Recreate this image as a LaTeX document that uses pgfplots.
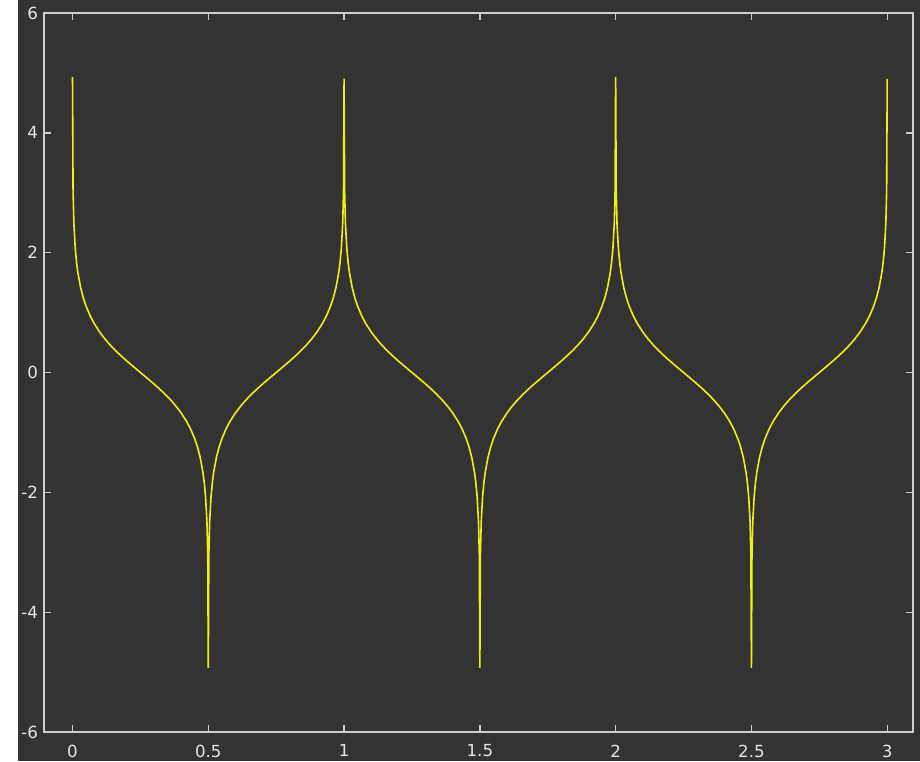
\documentclass[border=0pt]{standalone}
\usepackage{pgfplots}
\pgfplotsset{compat=1.18}
\usepackage{pgfplotstable}
\usepackage{fontspec}
\setmainfont{DejaVu Sans}
\definecolor{bg}{RGB}{51,51,51}
\definecolor{fr}{RGB}{205,205,205}
\definecolor{yl}{RGB}{240,240,20}
\definecolor{lbl}{RGB}{230,230,230}
\pgfplotstableread{
x y
0 4.93
0.002 3.04
0.005 2.492
0.01 2.076
0.015 1.833
0.02 1.66
0.03 1.415
0.04 1.241
0.05 1.106
0.065 0.945
0.08 0.816
0.1 0.675
0.12 0.556
0.14 0.452
0.16 0.359
0.18 0.273
0.2 0.192
0.225 0.095
0.25 0
0.275 -0.095
0.3 -0.192
0.32 -0.273
0.34 -0.359
0.36 -0.452
0.38 -0.556
0.4 -0.675
0.42 -0.816
0.435 -0.945
0.45 -1.106
0.46 -1.241
0.47 -1.415
0.48 -1.66
0.485 -1.833
0.49 -2.076
0.495 -2.492
0.498 -3.04
0.5 -4.93
0.502 -3.04
0.505 -2.492
0.51 -2.076
0.515 -1.833
0.52 -1.66
0.53 -1.415
0.54 -1.241
0.55 -1.106
0.565 -0.945
0.58 -0.816
0.6 -0.675
0.62 -0.556
0.64 -0.452
0.66 -0.359
0.68 -0.273
0.7 -0.192
0.725 -0.095
0.75 0
0.775 0.095
0.8 0.192
0.82 0.273
0.84 0.359
0.86 0.452
0.88 0.556
0.9 0.675
0.92 0.816
0.935 0.945
0.95 1.106
0.96 1.241
0.97 1.415
0.98 1.66
0.985 1.833
0.99 2.076
0.995 2.492
0.998 3.04
1 4.9
1.002 3.04
1.005 2.492
1.01 2.076
1.015 1.833
1.02 1.66
1.03 1.415
1.04 1.241
1.05 1.106
1.065 0.945
1.08 0.816
1.1 0.675
1.12 0.556
1.14 0.452
1.16 0.359
1.18 0.273
1.2 0.192
1.225 0.095
1.25 0
1.275 -0.095
1.3 -0.192
1.32 -0.273
1.34 -0.359
1.36 -0.452
1.38 -0.556
1.4 -0.675
1.42 -0.816
1.435 -0.945
1.45 -1.106
1.46 -1.241
1.47 -1.415
1.48 -1.66
1.485 -1.833
1.49 -2.076
1.495 -2.492
1.498 -3.04
1.5 -4.93
1.502 -3.04
1.505 -2.492
1.51 -2.076
1.515 -1.833
1.52 -1.66
1.53 -1.415
1.54 -1.241
1.55 -1.106
1.565 -0.945
1.58 -0.816
1.6 -0.675
1.62 -0.556
1.64 -0.452
1.66 -0.359
1.68 -0.273
1.7 -0.192
1.725 -0.095
1.75 0
1.775 0.095
1.8 0.192
1.82 0.273
1.84 0.359
1.86 0.452
1.88 0.556
1.9 0.675
1.92 0.816
1.935 0.945
1.95 1.106
1.96 1.241
1.97 1.415
1.98 1.66
1.985 1.833
1.99 2.076
1.995 2.492
1.998 3.04
2 4.93
2.002 3.04
2.005 2.492
2.01 2.076
2.015 1.833
2.02 1.66
2.03 1.415
2.04 1.241
2.05 1.106
2.065 0.945
2.08 0.816
2.1 0.675
2.12 0.556
2.14 0.452
2.16 0.359
2.18 0.273
2.2 0.192
2.225 0.095
2.25 0
2.275 -0.095
2.3 -0.192
2.32 -0.273
2.34 -0.359
2.36 -0.452
2.38 -0.556
2.4 -0.675
2.42 -0.816
2.435 -0.945
2.45 -1.106
2.46 -1.241
2.47 -1.415
2.48 -1.66
2.485 -1.833
2.49 -2.076
2.495 -2.492
2.498 -3.04
2.5 -4.93
2.502 -3.04
2.505 -2.492
2.51 -2.076
2.515 -1.833
2.52 -1.66
2.53 -1.415
2.54 -1.241
2.55 -1.106
2.565 -0.945
2.58 -0.816
2.6 -0.675
2.62 -0.556
2.64 -0.452
2.66 -0.359
2.68 -0.273
2.7 -0.192
2.725 -0.095
2.75 0
2.775 0.095
2.8 0.192
2.82 0.273
2.84 0.359
2.86 0.452
2.88 0.556
2.9 0.675
2.92 0.816
2.935 0.945
2.95 1.106
2.96 1.241
2.97 1.415
2.98 1.66
2.985 1.833
2.99 2.076
2.995 2.492
2.998 3.04
3 4.9
}\datatable
\begin{document}
\begin{tikzpicture}
\path[use as bounding box] (0pt,0pt) rectangle (690pt,570.75pt);
\clip (0pt,0pt) rectangle (690pt,570.75pt);
\fill[bg] (0pt,0pt) rectangle (690pt,570.75pt);
\fill[white] (0pt,0pt) rectangle (13.5pt,570.75pt);
\begin{axis}[
  at={(33pt,21.75pt)}, anchor=south west,
  scale only axis, width=651.75pt, height=539.25pt,
  xmin=-0.105, xmax=3.095, ymin=-6, ymax=6,
  xtick={0,0.5,1,1.5,2,2.5,3},
  ytick={-6,-4,-2,0,2,4,6},
  xticklabels={0,0.5,1,1.5,2,2.5,3},
  yticklabels={-6,-4,-2,0,2,4,6},
  tick align=inside,
  major tick length=5pt,
  axis line style={draw=fr, line width=1.2pt},
  every tick/.style={draw=fr, line width=1pt},
  tick label style={text=lbl, font=\fontsize{12.5}{14}\selectfont},
  xticklabel style={yshift=-6pt},
  yticklabel style={xshift=-1pt},
  axis background/.style={fill=bg},
  clip=true,
]
\addplot[draw=yl, line width=1.2pt, mark=none] table[x=x, y=y] {\datatable};
\end{axis}
\end{tikzpicture}
\end{document}
